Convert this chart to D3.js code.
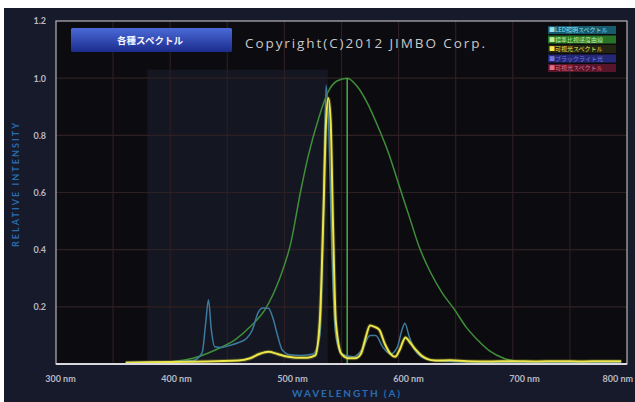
<!DOCTYPE html>
<html><head><meta charset="utf-8">
<script src="https://cdn.jsdelivr.net/npm/d3@7"></script>
<style>
html,body{margin:0;padding:0;background:#fff;}
svg{display:block;}
</style></head><body>
<svg id="chart" width="635" height="402"></svg>
<script>
// ---- data ----
const yTicks = [0.2, 0.4, 0.6, 0.8, 1.0, 1.2];
const xTicks = [300, 400, 500, 600, 700, 800];
const xGrid = [350, 400, 450, 500, 550, 600, 650, 700, 750];
const yGrid = [0.2, 0.4, 0.6, 0.8, 1.0];

// standard luminosity curve [nm, relative value]
const luminosity = [[380,0.003],[400,0.008],[420,0.02],[440,0.05],[457,0.085],[470,0.13],[483,0.19],[495,0.29],[506,0.43],[514,0.6],[521,0.73],[530,0.86],[538,0.95],[546,0.99],[555,1.0],[564,0.97],[573,0.91],[582,0.83],[591,0.74],[600,0.63],[609,0.52],[618,0.41],[628,0.32],[638,0.25],[649,0.19],[659,0.13],[669,0.085],[680,0.045],[692,0.02],[705,0.008],[720,0.003],[750,0.001],[780,0]];
const peakWavelength = 555;

// lamp spectrum [nm, relative value]
const lampSpectrum = [[361,0.006],[400,0.008],[420,0.012],[428,0.04],[431,0.14],[433.5,0.225],[436,0.12],[439,0.06],[445,0.058],[452,0.065],[460,0.075],[467,0.09],[472,0.12],[477,0.18],[481,0.196],[486,0.195],[490,0.16],[494,0.1],[498,0.05],[505,0.032],[515,0.03],[525,0.035],[531,0.1],[534,0.5],[536.5,0.975],[539,0.8],[541.5,0.4],[545,0.1],[550,0.035],[560,0.025],[568,0.05],[575,0.1],[580,0.1],[586,0.06],[593,0.035],[599,0.06],[603,0.12],[605.5,0.143],[609,0.1],[614,0.05],[620,0.025],[630,0.012],[650,0.008],[700,0.006],[795,0.006]];

// visible light spectrum [nm, relative value]
const visibleSpectrum = [[361,0.004],[380,0.006],[400,0.007],[420,0.008],[440,0.01],[460,0.012],[470,0.02],[478,0.035],[486,0.043],[494,0.035],[502,0.026],[510,0.022],[520,0.022],[527,0.03],[531,0.15],[534,0.5],[536.5,0.85],[538.5,0.93],[540.5,0.85],[542.5,0.5],[545,0.15],[550,0.035],[556,0.02],[562,0.02],[567,0.035],[571,0.09],[575,0.135],[579,0.13],[583,0.12],[588,0.07],[593,0.035],[597,0.025],[601,0.05],[606,0.093],[610,0.075],[615,0.05],[620,0.03],[625,0.018],[632,0.012],[645,0.013],[660,0.01],[680,0.009],[700,0.01],[720,0.009],[740,0.01],[760,0.009],[780,0.01],[795,0.01]];

const legendLabels = ["■LED照明スペクトル", "■標準比視感度曲線", "■可視光スペクトル", "■ブラックライト光", "■可視光スペクトル"];
const legendFills = ["#1d6f86", "#2f8f2c", "#2a2a14", "#2b2f8f", "#6a1830"];
const legendText = ["#8fe0f0", "#b8f0a0", "#f2ec50", "#6f78e0", "#e07090"];

// ---- layout ----
const svg = d3.select("#chart");
const L = 56, R = 627, T = 21, B = 364;
const x = d3.scaleLinear().domain([300, 800]).range([L, R]);
const xLabel = d3.scaleLinear().domain([300, 800]).range([60, 640]);
const y = d3.scaleLinear().domain([0, 1.2]).range([B, T]);

svg.append("rect").attr("width", 635).attr("height", 402).attr("fill", "#ffffff");
svg.append("rect").attr("x", 4).attr("y", 8).attr("width", 631).attr("height", 394).attr("fill", "#161a2b");

// plot panel
svg.append("rect").attr("x", L).attr("y", T).attr("width", R - L).attr("height", B - T).attr("fill", "#0c0b0f");
svg.append("rect").attr("x", x(380)).attr("y", y(1.03)).attr("width", x(538) - x(380)).attr("height", B - y(1.03))
  .attr("fill", "#141621");

// grid
svg.append("g").selectAll("line").data(xGrid).join("line")
  .attr("x1", d => x(d)).attr("x2", d => x(d)).attr("y1", T).attr("y2", B)
  .attr("stroke", "#2c1e22").attr("stroke-width", 1.2);
svg.append("g").selectAll("line").data(yGrid).join("line")
  .attr("x1", L).attr("x2", R).attr("y1", d => y(d)).attr("y2", d => y(d))
  .attr("stroke", "#2e2022").attr("stroke-width", 1.2);

// header button
const grad = svg.append("defs").append("linearGradient").attr("id", "btn").attr("x1", 0).attr("y1", 0).attr("x2", 0).attr("y2", 1);
grad.append("stop").attr("offset", "0%").attr("stop-color", "#4a6ad8");
grad.append("stop").attr("offset", "100%").attr("stop-color", "#1c2c8c");
svg.append("rect").attr("x", 71).attr("y", 28).attr("width", 161).attr("height", 24).attr("rx", 1.5).attr("fill", "url(#btn)");
svg.append("text").attr("x", 150).attr("y", 43.5).attr("text-anchor", "middle")
  .attr("font-family", "Noto Sans CJK JP").attr("font-weight", "bold").attr("font-size", 9.5).attr("fill", "#f4f4ff")
  .text("各種スペクトル");

svg.append("text").attr("x", 245).attr("y", 48).attr("textLength", 240).attr("lengthAdjust", "spacing")
  .attr("font-family", "Open Sans").attr("font-size", 13.5).attr("fill", "#c9c9cc")
  .text("Copyright(C)2012 JIMBO Corp.");

// legend
const lg = svg.append("g").selectAll("g").data(legendLabels).join("g")
  .attr("transform", (d, i) => `translate(548, ${26 + i * 9.5})`);
lg.append("rect").attr("width", 68).attr("height", 8).attr("fill", (d, i) => legendFills[i]).attr("opacity", 0.8);
lg.append("text").attr("x", 1).attr("y", 6.3).attr("font-family", "Noto Sans CJK JP").attr("font-size", 6)
  .attr("fill", (d, i) => legendText[i]).text(d => d);

// series
const line = d3.line().x(d => x(d[0])).y(d => y(d[1])).curve(d3.curveMonotoneX);
svg.append("path").datum(luminosity).attr("d", line).attr("fill", "none").attr("stroke", "#3f8f3a").attr("stroke-width", 1.5);
svg.append("line").attr("x1", x(peakWavelength)).attr("x2", x(peakWavelength)).attr("y1", y(1.0)).attr("y2", B)
  .attr("stroke", "#4aa044").attr("stroke-width", 1.6);
svg.append("path").datum(lampSpectrum).attr("d", line).attr("fill", "none").attr("stroke", "#3c7aa0").attr("stroke-width", 1.5);
svg.append("path").datum(visibleSpectrum).attr("d", line).attr("fill", "none").attr("stroke", "#e8e040").attr("stroke-width", 4).attr("opacity", 0.22);
svg.append("path").datum(visibleSpectrum).attr("d", line).attr("fill", "none").attr("stroke", "#ece64a").attr("stroke-width", 2);

// frame
svg.append("rect").attr("x", L).attr("y", T).attr("width", R - L).attr("height", B - T)
  .attr("fill", "none").attr("stroke", "#a8a8b0").attr("stroke-width", 1.3);
svg.append("line").attr("x1", L).attr("x2", R).attr("y1", B).attr("y2", B).attr("stroke", "#d8d8de").attr("stroke-width", 1.8);

// axes
const yAxis = svg.append("g").attr("transform", `translate(${L},0)`)
  .call(d3.axisLeft(y).tickValues(yTicks).tickSize(0).tickPadding(10).tickFormat(d3.format(".1f")));
const xAxis = svg.append("g").attr("transform", `translate(0,${B})`)
  .call(d3.axisBottom(xLabel).tickValues(xTicks).tickSize(0).tickPadding(12).tickFormat(d => d + " nm"));
[yAxis, xAxis].forEach(g => {
  g.select(".domain").remove();
  g.selectAll("text").attr("font-family", "Lato").attr("font-size", 9).attr("font-weight", "bold").attr("fill", "#b8b8c0");
});
// last wavelength label kept inside the canvas edge
xAxis.selectAll(".tick").filter(d => d === 800).attr("transform", "translate(633,0)")
  .select("text").attr("text-anchor", "end");

svg.append("text").attr("transform", "translate(19,185) rotate(-90)").attr("text-anchor", "middle")
  .attr("textLength", 124).attr("lengthAdjust", "spacing")
  .attr("font-family", "Lato").attr("font-weight", "bold").attr("font-size", 9).attr("fill", "#2a6cb0")
  .text("RELATIVE INTENSITY");
svg.append("text").attr("x", 292).attr("y", 397)
  .attr("textLength", 108).attr("lengthAdjust", "spacing")
  .attr("font-family", "Lato").attr("font-weight", "bold").attr("font-size", 10).attr("fill", "#2a6cb0")
  .text("WAVELENGTH (A)");
</script>
</body></html>
